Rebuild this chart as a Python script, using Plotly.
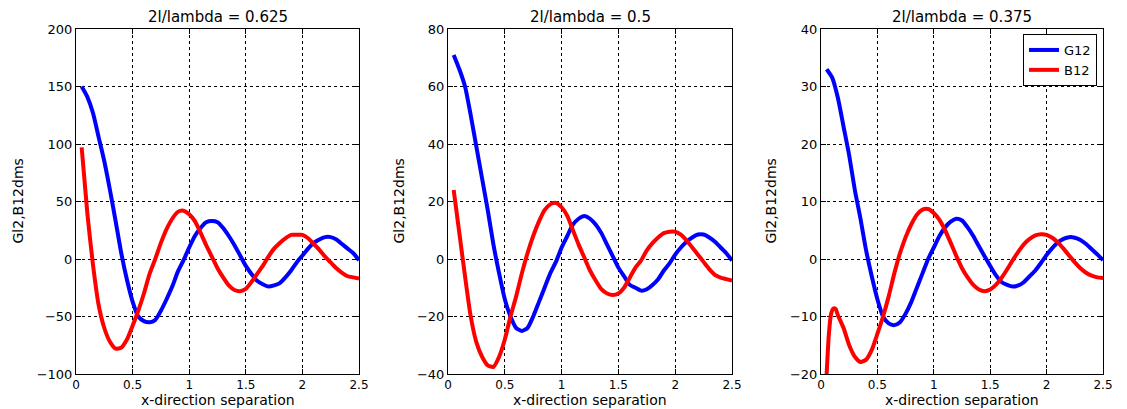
import plotly.graph_objects as go

# ---------------- data ----------------
x_sep = [0.05, 0.10, 0.15, 0.20, 0.25, 0.30, 0.35, 0.40, 0.45, 0.50,
         0.55, 0.60, 0.65, 0.70, 0.75, 0.80, 0.85, 0.90, 0.95, 1.00,
         1.05, 1.10, 1.15, 1.20, 1.25, 1.30, 1.35, 1.40, 1.45, 1.50,
         1.55, 1.60, 1.65, 1.70, 1.75, 1.80, 1.85, 1.90, 1.95, 2.00,
         2.05, 2.10, 2.15, 2.20, 2.25, 2.30, 2.35, 2.40, 2.45, 2.50]

g12_0625 = [150, 141, 127, 106, 85, 60, 33, 5, -18, -37,
            -50, -54, -55, -53, -45, -35, -24, -11, -1, 10,
            20, 27, 32, 33, 32, 27, 20, 12, 3, -6,
            -13, -19, -22, -24, -23, -21, -16, -10, -3, 3,
            9, 14, 17, 19, 19, 17, 13, 9, 5, -1]
b12_0625 = [97, 40, -5, -40, -60, -72, -78, -77, -70, -58,
            -45, -30, -13, 0, 14, 26, 35, 41, 42, 39,
            33, 23, 12, 2, -8, -16, -23, -27, -28, -26,
            -20, -13, -6, 2, 9, 14, 18, 21, 21, 21,
            18, 13, 8, 2, -3, -8, -12, -15, -16, -17]

g12_05 = [71, 66, 60, 50, 39, 28, 17, 5, -5, -14,
          -20, -24, -25, -24, -20, -15, -10, -5, -1, 4,
          8, 12, 14, 15, 14, 12, 9, 5, 1, -3,
          -6, -9, -10, -11, -10.5, -9, -7, -4, -1.5, 1.5,
          4, 6, 7.5, 8.5, 8.5, 7.5, 6, 4, 2, -0.5]
b12_05 = [24, 9, -6, -20, -29, -34, -37, -37.5, -34, -28,
          -20, -13, -5, 2, 8, 13, 17, 19, 19.5, 18,
          15, 10, 5, 0.5, -4, -7.5, -10.5, -12, -12.5, -12,
          -10, -6.5, -3, -0.5, 3, 5.5, 7.5, 9, 9.5, 9.5,
          8.5, 6.5, 4, 1.5, -1, -3.5, -5.5, -6.5, -7, -7.5]

g12_0375 = [33, 31.5, 28, 23, 18, 12, 7, 1.5, -3, -7,
            -10, -11.2, -11.5, -11, -9.5, -7.5, -5, -2.5, 0, 2,
            4, 5.5, 6.5, 7, 6.7, 5.5, 4, 2.2, 0.5, -1.2,
            -2.8, -4, -4.5, -4.8, -4.6, -4, -3, -2, -0.7, 0.7,
            1.9, 2.9, 3.5, 3.8, 3.7, 3.3, 2.6, 1.7, 0.8, -0.2]
x_sep_b0375 = [0.05, 0.07, 0.09, 0.11, 0.13, 0.15, 0.20, 0.25, 0.30, 0.35,
               0.40, 0.45, 0.50, 0.55, 0.60, 0.65, 0.70, 0.75, 0.80, 0.85,
               0.90, 0.95, 1.00, 1.05, 1.10, 1.15, 1.20, 1.25, 1.30, 1.35,
               1.40, 1.45, 1.50, 1.55, 1.60, 1.65, 1.70, 1.75, 1.80, 1.85,
               1.90, 1.95, 2.00, 2.05, 2.10, 2.15, 2.20, 2.25, 2.30, 2.35,
               2.40, 2.45, 2.50]
b12_0375 = [-20, -13, -9.5, -8.6, -8.7, -9.8, -12, -15, -17, -17.9,
             -17.5, -15.8, -13, -10, -6.5, -2.5, 1, 3.8, 6, 7.7,
             8.6, 8.7, 8, 6.8, 5, 2.8, 0.5, -1.6, -3.2, -4.5,
             -5.3, -5.6, -5.3, -4.5, -3.3, -1.8, -0.2, 1.3, 2.6, 3.5,
             4.1, 4.3, 4.2, 3.7, 2.9, 1.8, 0.6, -0.6, -1.6, -2.4,
             -2.9, -3.2, -3.3]

panel_titles = ["2l/lambda = 0.625", "2l/lambda = 0.5", "2l/lambda = 0.375"]
y_ranges = [[-100, 200], [-40, 80], [-20, 40]]
y_dticks = [50, 20, 10]
x_ticks = [0, 0.5, 1, 1.5, 2, 2.5]
x_ticklabels = ["0", "0.5", "1", "1.5", "2", "2.5"]
x_title = "x-direction separation"
y_title = "Gl2,B12dms"
series_names = ["G12", "B12"]
series_colors = ["#0000FF", "#FF0000"]

# ---------------- layout geometry ----------------
W, H = 1127, 409
x_px = [(76, 359), (448, 732), (821, 1103)]
y_px = (29, 374)
ytitle_px = [17, 398, 770]
FONT = "DejaVu Sans"

fig = go.Figure()

panels = [
    (x_sep, g12_0625, x_sep, b12_0625),
    (x_sep, g12_05, x_sep, b12_05),
    (x_sep, g12_0375, x_sep_b0375, b12_0375),
]

annotations = []
for i, (xg, g, xb, b) in enumerate(panels):
    xa = "x" if i == 0 else f"x{i+1}"
    ya = "y" if i == 0 else f"y{i+1}"
    fig.add_trace(go.Scatter(x=xg, y=g, mode="lines", name=series_names[0],
                             line=dict(color=series_colors[0], width=4, shape="spline", smoothing=0.6),
                             xaxis=xa, yaxis=ya, showlegend=(i == 2)))
    fig.add_trace(go.Scatter(x=xb, y=b, mode="lines", name=series_names[1],
                             line=dict(color=series_colors[1], width=4, shape="spline", smoothing=0.6),
                             xaxis=xa, yaxis=ya, showlegend=(i == 2)))

    xk = "xaxis" if i == 0 else f"xaxis{i+1}"
    yk = "yaxis" if i == 0 else f"yaxis{i+1}"
    common = dict(showline=True, linecolor="black", linewidth=1, mirror="ticks",
                  ticks="inside", ticklen=5, tickcolor="black",
                  showgrid=True, gridcolor="black", gridwidth=1, griddash="dot",
                  zeroline=False, automargin=False)
    fig.layout[xk] = dict(domain=[x_px[i][0] / W, x_px[i][1] / W],
                          range=[0, 2.5], tickvals=x_ticks, ticktext=x_ticklabels,
                          anchor=ya, tickfont=dict(family=FONT, size=12, color="black"),
                          **common)
    fig.layout[yk] = dict(domain=[1 - y_px[1] / H, 1 - y_px[0] / H],
                          range=y_ranges[i], dtick=y_dticks[i], anchor=xa,
                          tickfont=dict(family=FONT, size=13, color="black"), **common)

    cx = (x_px[i][0] + x_px[i][1]) / 2 / W
    annotations.append(dict(text=panel_titles[i], x=cx, y=1 - 17 / H, xref="paper", yref="paper",
                            xanchor="center", yanchor="middle", showarrow=False,
                            font=dict(family=FONT, size=15, color="black")))
    annotations.append(dict(text=x_title, x=cx, y=1 - 399.5 / H, xref="paper", yref="paper",
                            xanchor="center", yanchor="middle", showarrow=False,
                            font=dict(family=FONT, size=14, color="black")))
    annotations.append(dict(text=y_title, x=ytitle_px[i] / W, y=1 - ((y_px[0] + y_px[1]) / 2) / H,
                            xref="paper", yref="paper", xanchor="center", yanchor="middle",
                            textangle=-90, showarrow=False,
                            font=dict(family=FONT, size=14, color="black")))

fig.update_layout(
    width=W, height=H,
    margin=dict(l=0, r=0, t=0, b=0, autoexpand=False),
    paper_bgcolor="white", plot_bgcolor="white",
    annotations=annotations,
    legend=dict(x=1097 / W, y=1 - 34 / H, xanchor="right", yanchor="top",
                bgcolor="white", bordercolor="black", borderwidth=1,
                font=dict(family=FONT, size=13, color="black"),
                tracegroupgap=0, itemwidth=30),
    showlegend=True,
)

fig.write_html("out.html")
